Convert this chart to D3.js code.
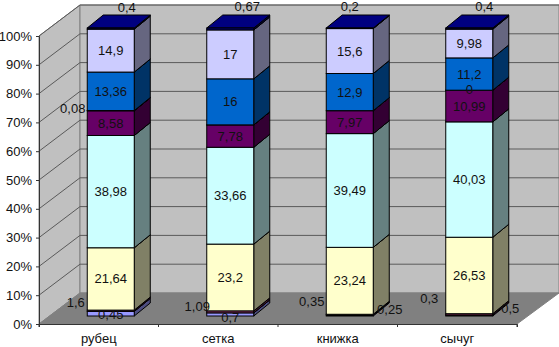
<!DOCTYPE html>
<html>
<head>
<meta charset="utf-8">
<script src="https://cdn.jsdelivr.net/npm/d3@7"></script>
<style>
body { margin: 0; background: #fff; }
svg { display: block; }
text { font-family: "Liberation Sans", Arial, sans-serif; font-size: 13px; fill: #111; }
</style>
</head>
<body>
<div id="chart"></div>
<script>
var categories = ["рубец", "сетка", "книжка", "сычуг"];
var yTicks = [0, 10, 20, 30, 40, 50, 60, 70, 80, 90, 100];

// series from the bottom of the stack up, null = no label in the picture
var s1 = [1.6, 1.09, 0.35, 0.3];
var s2 = [0.45, 0.7, 0.25, 0.5];
var s3 = [21.64, 23.2, 23.24, 26.53];
var s4 = [38.98, 33.66, 39.49, 40.03];
var s5 = [8.58, 7.78, 7.97, 10.99];
var s6 = [0.08, null, null, 0];
var s7 = [13.36, 16, 12.9, 11.2];
var s8 = [14.9, 17, 15.6, 9.98];
var s9 = [0.4, 0.67, 0.2, 0.4];
var allSeries = [s1, s2, s3, s4, s5, s6, s7, s8, s9];

var colors = ["#9999ff", "#993366", "#ffffcc", "#ccffff", "#660066", "#ff8080", "#0066cc", "#ccccff", "#000080"];

// small labels sit away from their segment: [dx, dy] from the segment centre
var labelShift = {
    "0|0": [-35, -11], "0|1": [-33, -8], "0|2": [-38, -14], "0|3": [-40, -17],
    "1|0": [0, 4], "1|1": [0, 6], "1|2": [40, -5], "1|3": [41, -6],
    "5|0": [-38, -2], "5|3": [0, -1],
    "8|0": [16, -21], "8|1": [17, -22], "8|2": [0, -22], "8|3": [15, -22]
};

var width = 559, height = 347;
var depthX = 41, depthY = 31;      // walls
var barDepthX = 16, barDepthY = 13;
var barShiftX = 12, barShiftY = 8; // bars stand a bit back on the floor
var barWidth = 47;

var x = d3.scaleBand().domain(categories).range([39, 517]);
var y = d3.scaleLinear().domain([0, 100]).range([324, 36]);

var svg = d3.select("#chart").append("svg")
    .attr("width", width)
    .attr("height", height);

var wall = svg.append("g");
function poly(g, pts, fill, stroke) {
    return g.append("polygon")
        .attr("points", pts.map(function(p) { return p.join(","); }).join(" "))
        .attr("fill", fill)
        .attr("stroke", stroke || "none");
}

var x0 = x.range()[0], x1 = x.range()[1], y0 = y(0), yTop = y(100);
poly(wall, [[x0, yTop], [x0 + depthX, yTop - depthY], [x0 + depthX, y0 - depthY], [x0, y0]], "#c0c0c0", "#808080");
poly(wall, [[x0 + depthX, yTop - depthY], [x1 + depthX + 1, yTop - depthY], [x1 + depthX + 1, y0 - depthY], [x0 + depthX, y0 - depthY]], "#c0c0c0", "#808080");
poly(wall, [[x0, y0], [x0 + depthX, y0 - depthY], [x1 + depthX + 1, y0 - depthY], [x1, y0]], "#808080", "#808080");

// gridlines run along the side wall, then the back wall
yTicks.forEach(function(t) {
    if (t == 0) return;
    wall.append("polyline")
        .attr("points", [x0, y(t), x0 + depthX, y(t) - depthY, x1 + depthX + 1, y(t) - depthY].join(","))
        .attr("fill", "none")
        .attr("stroke", "#5a5a5a")
        .attr("stroke-width", 1);
});

// stack
var rows = categories.map(function(c, i) {
    var row = { name: c };
    allSeries.forEach(function(s, k) { row[k] = s[i]; });
    return row;
});
var keys = allSeries.map(function(s, k) { return k; });
var stacked = d3.stack().keys(keys).offset(d3.stackOffsetExpand)(rows);

var bars = svg.append("g");
var labels = [];

categories.forEach(function(c, i) {
    var left = x(c) + x.bandwidth() / 2 - barWidth / 2 + barShiftX;
    var right = left + barWidth;
    stacked.forEach(function(layer, k) {
        var yLo = y(layer[i][0] * 100) - barShiftY;
        var yHi = y(layer[i][1] * 100) - barShiftY;
        var col = d3.color(colors[k]);
        var side = d3.rgb(col.r / 2, col.g / 2, col.b / 2);
        poly(bars, [[right, yLo], [right + barDepthX, yLo - barDepthY], [right + barDepthX, yHi - barDepthY], [right, yHi]], side, "#000");
        poly(bars, [[left, yHi], [left + barDepthX, yHi - barDepthY], [right + barDepthX, yHi - barDepthY], [right, yHi]], k == 8 ? "#000080" : col, "#000");
        bars.append("rect")
            .attr("x", left)
            .attr("y", yHi)
            .attr("width", barWidth)
            .attr("height", yLo - yHi)
            .attr("fill", col)
            .attr("stroke", "#000");
        if (allSeries[k][i] !== null) {
            var shift = labelShift[k + "|" + i] || [0, 0];
            labels.push({
                text: String(allSeries[k][i]).replace(".", ","),
                x: left + barWidth / 2 + shift[0],
                y: (yLo + yHi) / 2 + shift[1]
            });
        }
    });
});

// axes
var yAxis = d3.axisLeft(y).tickValues(yTicks).tickSize(3).tickPadding(4).tickFormat(function(d) { return d + "%"; });
var xAxis = d3.axisBottom(x).tickSize(3).tickSizeOuter(3).tickPadding(7);

var gy = svg.append("g").attr("transform", "translate(" + x0 + ",0)").call(yAxis);
var gx = svg.append("g").attr("transform", "translate(0," + y0 + ")").call(xAxis);
gy.selectAll("text").style("font-size", "13px").style("font-family", null);
gx.selectAll("text").style("font-size", "13px").style("font-family", null);
gx.selectAll(".tick line").remove();
x.domain().concat(["end"]).forEach(function(c, i) {
    gx.append("line")
        .attr("x1", x0 + i * x.step()).attr("x2", x0 + i * x.step())
        .attr("y1", 0).attr("y2", 3)
        .attr("stroke", "#333");
});
gy.selectAll("path, line").attr("stroke", "#333");
gx.selectAll("path").attr("stroke", "#333");

// data labels go on top of everything
svg.append("g").selectAll("text")
    .data(labels)
    .enter()
    .append("text")
    .attr("x", function(d) { return d.x; })
    .attr("y", function(d) { return d.y; })
    .attr("text-anchor", "middle")
    .attr("dominant-baseline", "central")
    .text(function(d) { return d.text; });
</script>
</body>
</html>
